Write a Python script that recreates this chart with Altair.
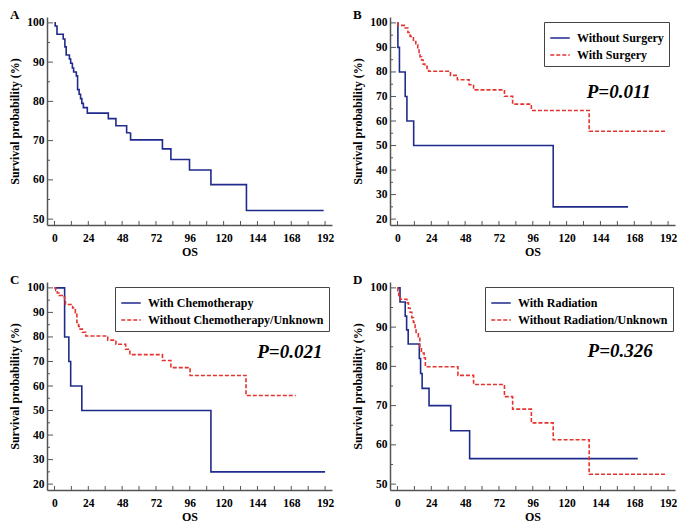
import altair as alt
import pandas as pd

# ---------------- data ----------------
x_tick_vals = list(range(0, 193, 12))
x_label_vals = list(range(0, 193, 24))

# Panel A: overall survival
A_t = [0, 0.5, 1.8, 6.2, 7.4, 8.3, 10.6, 11.5, 12.7, 13.6, 15.5, 16.4, 17.5, 18.5, 19.4,
       20.5, 23.3, 38.2, 43.6, 51.2, 54.0, 76.6, 82.6, 95.8, 111.0, 136.2, 191.0]
A_s = [100, 99.2, 97.1, 95.9, 93.9, 91.8, 90.8, 89.7, 88.5, 87.5, 86.5, 83.0, 81.8, 80.7, 79.5,
       78.4, 77.0, 75.6, 73.8, 72.0, 70.2, 67.9, 65.2, 62.5, 58.8, 52.2, 52.2]

# Panel B: surgery
B1_name = "Without Surgery"
B1_t = [0, 0.3, 1.4, 5.5, 6.7, 11.5, 110.5, 163.6]
B1_s = [100, 90.0, 80.0, 70.0, 60.0, 50.0, 25.0, 25.0]
B2_name = "With Surgery"
B2_t = [0, 0.3, 5.5, 7.4, 9.0, 11.3, 13.0, 14.4, 15.3, 16.0, 17.1, 18.2, 19.4, 21.0, 22.1,
        37.6, 42.5, 50.8, 54.0, 75.9, 81.7, 95.0, 136.0, 191.3]
B2_s = [100, 99.0, 97.9, 96.1, 94.5, 92.4, 91.1, 89.5, 87.5, 86.2, 84.9, 83.2, 82.3, 81.4, 80.3,
        78.6, 76.8, 74.8, 72.7, 70.1, 66.9, 64.3, 55.8, 55.8]
B_p = "P=0.011"
B_p_xy = (157, 72)

# Panel C: chemotherapy
C1_name = "With Chemotherapy"
C1_t = [0, 7.2, 10.2, 11.5, 19.4, 111.0, 192.0]
C1_s = [100, 80.0, 70.0, 60.0, 50.0, 25.0, 25.0]
C2_name = "Without Chemotherapy/Unknown"
C2_t = [0, 0.9, 2.0, 3.2, 5.5, 7.2, 7.8, 12.9, 14.8, 15.9, 17.1, 18.2, 19.8, 22.2, 37.8,
        43.6, 50.5, 53.5, 76.6, 82.6, 96.2, 135.9, 171.2]
C2_s = [100, 99.0, 97.9, 96.9, 96.3, 95.3, 93.2, 91.8, 89.8, 85.9, 84.3, 83.2, 81.9, 80.4, 78.7,
        77.0, 75.0, 72.8, 70.4, 67.5, 64.3, 56.1, 56.1]
C_p = "P=0.021"
C_p_xy = (167, 74)

# Panel D: radiation
D1_name = "With Radiation"
D1_t = [0, 1.8, 5.5, 6.5, 7.6, 15.5, 16.4, 17.5, 22.4, 37.8, 51.2, 170.5]
D1_s = [100, 96.4, 92.8, 89.3, 85.7, 82.0, 78.2, 74.4, 70.0, 63.6, 56.5, 56.5]
D2_name = "Without Radiation/Unknown"
D2_t = [0, 0.3, 0.9, 2.0, 6.7, 7.8, 9.0, 10.2, 11.3, 12.5, 13.2, 14.8, 15.9, 17.0, 18.9,
        19.8, 42.9, 54.0, 75.9, 81.7, 95.0, 110.5, 136.0, 191.3]
D2_s = [100, 98.9, 98.1, 97.1, 96.2, 94.8, 93.8, 92.4, 91.2, 89.9, 88.3, 87.5, 85.0, 83.4, 82.2,
        79.9, 77.7, 75.4, 72.3, 69.1, 65.6, 61.3, 52.5, 52.5]
D_p = "P=0.326"
D_p_xy = (158, 84)

# ---------------- style ----------------
FONT = "Liberation Serif"
BLUE = "#1f2a8a"
RED = "#e3342f"
AXC = "#555555"
W, H = 285, 208
X_DOM = [-5.3, 196.9]


def km_frame(series):
    rows = []
    for name, ts, ss in series:
        for t, s in zip(ts, ss):
            rows.append({"series": name, "t": t, "s": s})
    return pd.DataFrame(rows)


def panel(letter, series, colors, dashes, ydom, ymajor, yminor, legend_x=None, pval=None):
    xs = alt.Scale(domain=X_DOM, nice=False, zero=False)
    ys = alt.Scale(domain=ydom, nice=False, zero=False)
    xaxis = alt.Axis(values=x_label_vals, title="OS", ticks=False, grid=False,
                     labelPadding=7, titlePadding=3, format="d")
    yaxis = alt.Axis(values=ymajor, title="Survival probability (%)", ticks=False, grid=False,
                     labelPadding=3, titlePadding=5, format="d")

    def X(f):
        return alt.X(f, type="quantitative", scale=xs, axis=xaxis)

    def Y(f):
        return alt.Y(f, type="quantitative", scale=ys, axis=yaxis)

    xt = alt.Chart(pd.DataFrame({"v": x_tick_vals})).mark_rule(color=AXC, strokeWidth=1).encode(
        x=X("v"), y=alt.value(H), y2=alt.value(H - 4))
    yt1 = alt.Chart(pd.DataFrame({"v": ymajor})).mark_rule(color=AXC, strokeWidth=1).encode(
        y=Y("v"), x=alt.value(0), x2=alt.value(6))
    yt2 = alt.Chart(pd.DataFrame({"v": yminor})).mark_rule(color=AXC, strokeWidth=1).encode(
        y=Y("v"), x=alt.value(0), x2=alt.value(3))

    names = [s[0] for s in series]
    if legend_x is not None:
        leg = alt.Legend(orient="none", legendX=legend_x, legendY=5, title=None)
    else:
        leg = None
    lines = alt.Chart(km_frame(series)).mark_line(interpolate="step-after", strokeWidth=1.6).encode(
        x=X("t"), y=Y("s"),
        color=alt.Color("series:N", scale=alt.Scale(domain=names, range=colors), legend=leg),
        strokeDash=alt.StrokeDash("series:N", scale=alt.Scale(domain=names, range=dashes), legend=leg),
    )
    layers = [xt, yt1, yt2, lines]
    if pval is not None:
        label, (px, py) = pval
        txt = alt.Chart(pd.DataFrame({"x": [px], "y": [py], "label": [label]})).mark_text(
            font=FONT, fontSize=19, fontStyle="italic", fontWeight="bold", color="black"
        ).encode(x=X("x"), y=Y("y"), text="label:N")
        layers.append(txt)
    return alt.layer(*layers).properties(
        width=W, height=H,
        title=alt.TitleParams(letter, anchor="start", frame="group", dx=-37, dy=15, offset=0,
                              baseline="alphabetic", font=FONT, fontSize=13, fontWeight="bold",
                              color="black"),
    )


SOLID = [1, 0]
DASH = [4, 2]
Y50 = [48.5, 101.5]
Y20 = [17.6, 102.4]
maj50 = list(range(50, 101, 10))
min50 = list(range(55, 96, 10))
maj20 = list(range(20, 101, 10))
min20 = list(range(25, 96, 10))

pA = panel("A", [("Overall", A_t, A_s)], [BLUE], [SOLID], Y50, maj50, min50)
pB = panel("B", [(B1_name, B1_t, B1_s), (B2_name, B2_t, B2_s)], [BLUE, RED], [SOLID, DASH],
           Y20, maj20, min20, legend_x=154, pval=(B_p, B_p_xy))
pC = panel("C", [(C1_name, C1_t, C1_s), (C2_name, C2_t, C2_s)], [BLUE, RED], [SOLID, DASH],
           Y20, maj20, min20, legend_x=68, pval=(C_p, C_p_xy))
pD = panel("D", [(D1_name, D1_t, D1_s), (D2_name, D2_t, D2_s)], [BLUE, RED], [SOLID, DASH],
           Y50, maj50, min50, legend_x=95, pval=(D_p, D_p_xy))

chart = alt.concat(pA, pB, pC, pD, columns=2, spacing={"row": 57, "column": 58}, bounds="flush").resolve_scale(
    x="independent", y="independent", color="independent", strokeDash="independent"
).properties(padding=0).configure_view(stroke=None).configure_axis(
    domainColor=AXC, domainWidth=1.5,
    labelFont=FONT, labelFontSize=11.5, labelFontWeight="bold", labelColor="black",
    titleFont=FONT, titleFontSize=12, titleFontWeight="bold", titleColor="black",
).configure_legend(
    strokeColor="#444444", fillColor="white", padding=5,
    labelFont=FONT, labelFontSize=12, labelFontWeight="bold", labelColor="black",
    symbolType="stroke", symbolSize=380, symbolStrokeWidth=1.6, rowPadding=-5, labelOffset=6,
    labelLimit=400,
)

chart.save("out.html", embed_options={"renderer": "svg", "actions": False})
